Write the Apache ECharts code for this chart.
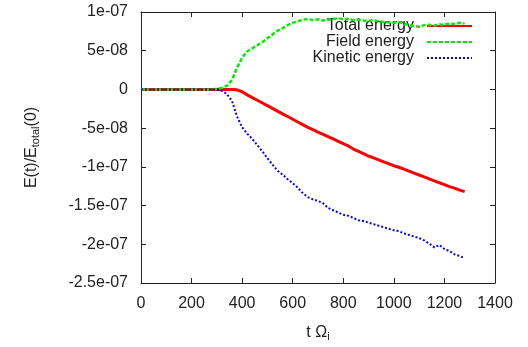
<!DOCTYPE html>
<html>
<head>
<meta charset="utf-8">
<script src="https://cdn.jsdelivr.net/npm/echarts@6/dist/echarts.min.js"></script>
<style>
  html, body { margin: 0; padding: 0; background: #fff; }
  #chart { width: 528px; height: 347px; }
</style>
</head>
<body>
<div id="chart"></div>
<script>
// energies in units of 1e-8, time in units of 1/Omega_i
const time = [
  0, 20, 40, 60, 80, 100, 120, 140, 160, 180, 200, 220, 240, 260, 280,
  300, 320, 340, 360, 380, 400, 420, 440, 460, 480, 500, 520, 540, 560, 580,
  600, 620, 640, 660, 680, 700, 720, 740, 760, 780, 800, 820, 840, 860, 880,
  900, 920, 940, 960, 980, 1000, 1020, 1040, 1060, 1080, 1100, 1120, 1140, 1160, 1180,
  1200, 1220, 1240, 1260, 1280
];
const totalEnergy = [
  0, 0, 0, 0, 0, 0, 0, 0, 0, 0, 0, 0, 0, 0, 0,
  0, 0, 0, 0, -0.05, -0.3, -0.7, -1.05, -1.4, -1.75, -2.1, -2.45, -2.8, -3.15, -3.5,
  -3.85, -4.2, -4.55, -4.9, -5.2, -5.5, -5.8, -6.1, -6.4, -6.7, -7.0, -7.3, -7.7, -8.0, -8.3,
  -8.6, -8.85, -9.1, -9.35, -9.6, -9.85, -10.05, -10.3, -10.55, -10.8, -11.05, -11.3, -11.55, -11.8, -12.05,
  -12.3, -12.55, -12.75, -13.0, -13.2
];
const fieldEnergy = [
  0, 0, 0, 0, 0, 0, 0, 0, 0, 0, 0, 0, 0, 0, 0,
  0.1, 0.2, 0.5, 1.2, 2.8, 4.1, 4.9, 5.3, 5.7, 6.1, 6.6, 7.1, 7.6, 7.9, 8.3,
  8.6, 8.8, 9.0, 9.1, 8.95, 9.05, 8.9, 9.0, 9.1, 9.2, 9.05, 9.1, 8.95, 9.0, 8.9,
  8.85, 8.95, 8.8, 8.7, 8.65, 8.6, 8.7, 8.5, 8.3, 8.2, 8.1, 8.3, 8.35, 8.25, 8.4,
  8.35, 8.5, 8.45, 8.6, 8.5
];
const kineticEnergy = [
  0, 0, 0, 0, 0, 0, 0, 0, 0, 0, 0, 0, 0, 0, 0,
  0, -0.2, -0.6, -1.5, -3.5, -4.9, -5.7, -6.4, -7.2, -8.0, -8.9, -9.7, -10.5, -11.0, -11.6,
  -12.1, -12.7, -13.4, -13.9, -14.2, -14.4, -14.7, -15.3, -15.6, -15.9, -16.2, -16.3, -16.6, -16.9, -17.0,
  -17.2, -17.4, -17.6, -17.8, -18.0, -18.2, -18.3, -18.6, -18.8, -19.0, -19.2, -19.5, -19.9, -20.4, -20.1,
  -20.6, -20.9, -21.3, -21.5, -21.8
];
const yTicks = [10, 5, 0, -5, -10, -15, -20, -25];
const yTickLabels = ['1e-07', '5e-08', '0', '-5e-08', '-1e-07', '-1.5e-07', '-2e-07', '-2.5e-07'];

const font = "'Liberation Sans', Arial, sans-serif";
const axisColor = '#222';

function pairs(ys) {
  return time.map((t, i) => [t, ys[i]]);
}

const chart = echarts.init(document.getElementById('chart'));

const option = {
  animation: false,
  backgroundColor: '#fff',
  textStyle: { fontFamily: font },
  grid: { left: 141, right: 33, top: 12, bottom: 59 },
  legend: {
    orient: 'vertical',
    align: 'right',
    right: 55,
    top: 18,
    padding: 0,
    itemWidth: 45,
    itemHeight: 10,
    itemGap: 0,
    z: 1,
    itemStyle: { opacity: 0 },
    textStyle: { fontFamily: font, fontSize: 16, color: '#222', padding: [0, 8, 0, 0] },
    data: ['Total energy', 'Field energy', 'Kinetic energy']
  },
  xAxis: [{
    type: 'value', min: 0, max: 1400, interval: 200,
    name: '{a|t Ω}{s|i}', nameLocation: 'middle', nameGap: 40,
    nameTextStyle: {
      rich: {
        a: { fontFamily: font, fontSize: 16, color: '#222' },
        s: { fontFamily: font, fontSize: 11, color: '#222', padding: [8, 0, 0, 0] }
      }
    },
    axisLine: { onZero: false, lineStyle: { color: axisColor, width: 1 } },
    axisTick: { inside: true, length: 5, lineStyle: { color: axisColor } },
    axisLabel: { fontFamily: font, fontSize: 16, color: '#222', margin: 13, formatter: v => String(v) },
    splitLine: { show: false }
  }, {
    type: 'value', min: 0, max: 1400, interval: 200, position: 'top',
    axisLine: { onZero: false, lineStyle: { color: axisColor, width: 1 } },
    axisTick: { inside: true, length: 5, lineStyle: { color: axisColor } },
    axisLabel: { show: false },
    splitLine: { show: false }
  }],
  yAxis: [{
    type: 'value', min: -25, max: 10, interval: 5,
    name: '{a|E(t)/E}{s|total}{a|(0)}', nameLocation: 'middle', nameGap: 100, nameRotate: 90,
    nameTextStyle: {
      rich: {
        a: { fontFamily: font, fontSize: 16, color: '#222' },
        s: { fontFamily: font, fontSize: 11, color: '#222', padding: [8, 0, 0, 0] }
      }
    },
    axisLine: { onZero: false, lineStyle: { color: axisColor, width: 1 } },
    axisTick: { inside: true, length: 5, lineStyle: { color: axisColor } },
    axisLabel: {
      fontFamily: font, fontSize: 16, color: '#222', margin: 13,
      formatter: v => yTickLabels[yTicks.indexOf(Math.round(v))] ?? ''
    },
    splitLine: { show: false }
  }, {
    type: 'value', min: -25, max: 10, interval: 5, position: 'right',
    axisLine: { onZero: false, lineStyle: { color: axisColor, width: 1 } },
    axisTick: { inside: true, length: 5, lineStyle: { color: axisColor } },
    axisLabel: { show: false },
    splitLine: { show: false }
  }],
  series: [
    {
      name: 'Total energy', type: 'line', data: pairs(totalEnergy),
      symbol: 'none', color: '#ff0000', z: 3,
      lineStyle: { color: '#ff0000', width: 3 }
    },
    {
      name: 'Field energy', type: 'line', data: pairs(fieldEnergy),
      symbol: 'none', color: '#00ee00', z: 4,
      lineStyle: { color: '#00ee00', width: 2.5, type: [4, 2] }
    },
    {
      name: 'Kinetic energy', type: 'line', data: pairs(kineticEnergy),
      symbol: 'none', color: '#0000ff', z: 5,
      lineStyle: { color: '#0000ff', width: 2, type: [2, 2] }
    }
  ]
};

chart.setOption(option);
</script>
</body>
</html>
